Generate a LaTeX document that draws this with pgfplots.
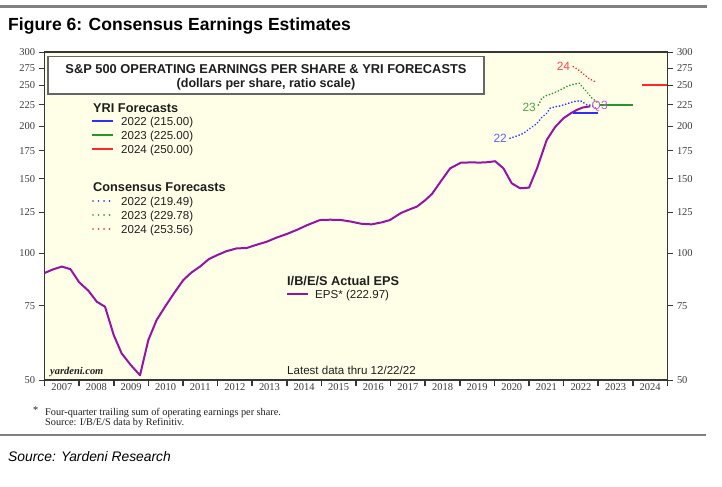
\documentclass[border=0pt]{standalone}
\usepackage{pgfplots}
\pgfplotsset{compat=1.18}
\usepackage{fontspec}
\setmainfont{Liberation Sans}
\newfontfamily\tnr{Liberation Serif}
\newcommand\fs[1]{\fontsize{#1}{#1}\selectfont}
\definecolor{bgyellow}{RGB}{255,255,232}
\definecolor{axisgray}{RGB}{55,55,55}
\definecolor{tickgray}{RGB}{60,60,60}
\definecolor{rulegray}{RGB}{128,128,128}
\definecolor{cblue}{RGB}{45,45,255}
\definecolor{cgreen}{RGB}{40,150,40}
\definecolor{cred}{RGB}{255,40,40}
\definecolor{cpurple}{RGB}{150,20,165}
\definecolor{qlabel}{RGB}{200,90,200}
\definecolor{txt}{RGB}{30,30,30}
\pgfplotstableread{
x y
2007.00 89.7
2007.25 91.5
2007.50 92.9
2007.75 91.6
2008.00 85.3
2008.27 81.4
2008.51 76.7
2008.75 74.6
2009.00 63.9
2009.23 57.8
2009.49 54.3
2009.76 51.3
2010.00 62.2
2010.24 69.4
2010.50 75.0
2010.75 80.5
2011.01 86.3
2011.25 90.0
2011.50 93.0
2011.75 96.8
2012.00 99.0
2012.25 101.0
2012.55 102.6
2012.84 102.8
2013.10 104.5
2013.42 106.4
2013.70 108.8
2014.00 111.0
2014.29 113.5
2014.60 116.6
2014.96 119.8
2015.25 120.0
2015.54 119.9
2015.85 118.8
2016.15 117.4
2016.45 117.0
2016.75 118.3
2016.98 119.8
2017.30 124.5
2017.50 126.5
2017.76 128.9
2018.00 133.5
2018.20 138.3
2018.45 148.0
2018.72 158.9
2019.03 163.9
2019.30 164.1
2019.60 164.0
2019.80 164.3
2020.02 165.2
2020.26 158.9
2020.50 146.4
2020.74 142.5
2021.00 143.0
2021.23 158.9
2021.51 185.5
2021.75 199.0
2021.99 208.8
2022.20 214.5
2022.38 218.6
2022.55 221.5
2022.77 223.0
}\eps
\pgfplotstableread{
x y
2020.45 187.3
2020.60 189.0
2020.84 192.4
2021.03 197.7
2021.23 203.2
2021.37 210.0
2021.51 214.6
2021.61 220.6
2021.75 222.5
2021.90 223.4
2022.10 226.0
2022.28 228.7
2022.48 229.9
2022.67 225.0
2022.82 224.0
2022.95 219.5
}\cons
\pgfplotstableread{
x y
2021.27 224.6
2021.37 233.0
2021.50 236.5
2021.61 238.1
2021.80 241.5
2021.99 246.0
2022.12 249.1
2022.28 251.5
2022.45 252.9
2022.62 243.8
2022.82 233.0
2022.97 228.0
}\consb
\pgfplotstableread{
x y
2022.28 276.9
2022.43 271.9
2022.57 266.0
2022.72 259.8
2022.96 253.6
}\consc
\tikzset{cdot/.style={line width=1.9bp, line cap=round, dash pattern=on 0.01bp off 3.2bp},
         ldot/.style={line width=1.9bp, line cap=round, dash pattern=on 0.01bp off 5.5bp}}
\begin{document}
\begin{tikzpicture}
\fill[white] (0,0) rectangle (722bp,487bp);
\path[use as bounding box] (0,0) rectangle (722bp,487bp);
\begin{axis}[
  at={(44.5bp,107bp)}, anchor=south west, scale only axis,
  width=623bp, height=328bp,
  xmin=2007, xmax=2025, ymode=log, ymin=50, ymax=300,
  axis background/.style={fill=bgyellow},
  axis line style={line width=1.6bp, draw=axisgray},
  tick pos=left, tick align=outside,
  major tick length=6bp,
  xtick={2007,2008,...,2025}, xticklabels={},
  xtick style={line width=1.6bp, draw=axisgray},
  extra x ticks={2007.5,2008.5,2009.5,2010.5,2011.5,2012.5,2013.5,2014.5,2015.5,2016.5,2017.5,2018.5,2019.5,2020.5,2021.5,2022.5,2023.5,2024.5},
  extra x tick labels={2007,2008,2009,2010,2011,2012,2013,2014,2015,2016,2017,2018,2019,2020,2021,2022,2023,2024},
  extra x tick style={major tick length=0pt},
  ytick={50,75,100,125,150,175,200,225,250,275,300},
  yticklabels={50,75,100,125,150,175,200,225,250,275,300},
  ytick style={line width=0.8bp, draw=axisgray},
  xticklabel style={font=\tnr\fs{10.5}, text=tickgray},
  yticklabel style={font=\tnr\fs{10.5}, text=tickgray},
]
\addplot[cpurple, line width=2bp, line join=round] table[x=x,y=y] {\eps};
\addplot[cblue, cdot] table[x=x,y=y] {\cons};
\addplot[cgreen, cdot] table[x=x,y=y] {\consb};
\addplot[cred, cdot] table[x=x,y=y] {\consc};
\addplot[cblue, line width=2bp] coordinates {(2022.28,215) (2023.0,215)};
\addplot[cgreen, line width=2bp] coordinates {(2023.05,225) (2024.0,225)};
\addplot[cred, line width=2bp] coordinates {(2024.27,250) (2024.99,250)};
\end{axis}
\begin{axis}[
  at={(44.5bp,107bp)}, anchor=south west, scale only axis,
  width=623bp, height=328bp,
  xmin=2007, xmax=2025, ymode=log, ymin=50, ymax=300,
  hide x axis, axis y line*=right, tick align=outside,
  major tick length=6bp,
  axis line style={line width=1.6bp, draw=axisgray},
  ytick={50,75,100,125,150,175,200,225,250,275,300},
  yticklabels={50,75,100,125,150,175,200,225,250,275,300},
  ytick style={line width=0.8bp, draw=axisgray},
  yticklabel style={font=\tnr\fs{10.5}, text=tickgray},
]
\addplot[draw=none] coordinates {(2010,100)};
\end{axis}
\begin{scope}[x=1bp,y=1bp]
% rules and captions
\draw[rulegray, line width=2.2bp] (0,480.5) -- (707,480.5);
\draw[rulegray, line width=2.2bp] (0,52) -- (706,52);
\node[anchor=base west, inner sep=0, font=\bfseries\fs{17.6}] at (8,456.3) {Figure 6: Consensus Earnings Estimates};
\node[anchor=base west, inner sep=0, font=\itshape\fs{13.9}] at (8,26) {Source: Yardeni Research};
% title box
\draw[fill=white, draw=rulegray!80!black, line width=1.5bp] (48,430.3) rectangle (484,393);
\node[anchor=base, inner sep=0, font=\bfseries\fs{12.9}, text=txt] at (266,413.4) {S\&P 500 OPERATING EARNINGS PER SHARE \& YRI FORECASTS};
\node[anchor=base, inner sep=0, font=\bfseries\fs{12.6}, text=txt] at (266,399.5) {(dollars per share, ratio scale)};
% YRI legend
\node[anchor=base west, inner sep=0, font=\bfseries\fs{12.8}, text=txt] at (93,374.8) {YRI Forecasts};
\draw[cblue, line width=2bp] (92,366) -- (113,366);
\draw[cgreen, line width=2bp] (92,352) -- (113,352);
\draw[cred, line width=2bp] (92,337.7) -- (113,337.7);
\node[anchor=base west, inner sep=0, font=\fs{11.6}, text=txt] at (121,361.8) {2022 (215.00)};
\node[anchor=base west, inner sep=0, font=\fs{11.6}, text=txt] at (121,347.9) {2023 (225.00)};
\node[anchor=base west, inner sep=0, font=\fs{11.6}, text=txt] at (121,333.6) {2024 (250.00)};
% Consensus legend
\node[anchor=base west, inner sep=0, font=\bfseries\fs{12.8}, text=txt] at (93,295.2) {Consensus Forecasts};
\draw[cblue, ldot] (93,286) -- (111,286);
\draw[cgreen, ldot] (93,272) -- (111,272);
\draw[cred, ldot] (93,258) -- (111,258);
\node[anchor=base west, inner sep=0, font=\fs{11.6}, text=txt] at (121,281.9) {2022 (219.49)};
\node[anchor=base west, inner sep=0, font=\fs{11.6}, text=txt] at (121,267.9) {2023 (229.78)};
\node[anchor=base west, inner sep=0, font=\fs{11.6}, text=txt] at (121,253.9) {2024 (253.56)};
% EPS legend
\node[anchor=base west, inner sep=0, font=\bfseries\fs{12.8}, text=txt] at (287,201.8) {I/B/E/S Actual EPS};
\draw[cpurple, line width=2bp] (287,193) -- (308,193);
\node[anchor=base west, inner sep=0, font=\fs{11.6}, text=txt] at (315,188.9) {EPS* (222.97)};
\node[anchor=base west, inner sep=0, font=\fs{11.6}, text=txt] at (287,112.9) {Latest data thru 12/22/22};
\node[anchor=base west, inner sep=0, font=\tnr\bfseries\itshape\fs{10.5}, text=txt] at (50,112.5) {yardeni.com};
% curve labels
\node[anchor=east, inner sep=0, font=\fs{12}, text=cblue!75] at (507,348.7) {22};
\node[anchor=east, inner sep=0, font=\fs{12}, text=cgreen!85] at (536,380) {23};
\node[anchor=center, inner sep=0, font=\fs{12}, text=cred!85] at (563.5,420.3) {24};
\node[anchor=center, inner sep=0, font=\fs{12}, text=qlabel] at (599.7,381) {Q3};
% footnote
\node[anchor=base west, inner sep=0, font=\tnr\fs{10.3}, text=txt] at (33,74) {*};
\node[anchor=base west, inner sep=0, font=\tnr\fs{10.3}, text=txt] at (45,71.7) {Four-quarter trailing sum of operating earnings per share.};
\node[anchor=base west, inner sep=0, font=\tnr\fs{10.3}, text=txt] at (45,61.7) {Source: I/B/E/S data by Refinitiv.};
\end{scope}
\end{tikzpicture}
\end{document}
